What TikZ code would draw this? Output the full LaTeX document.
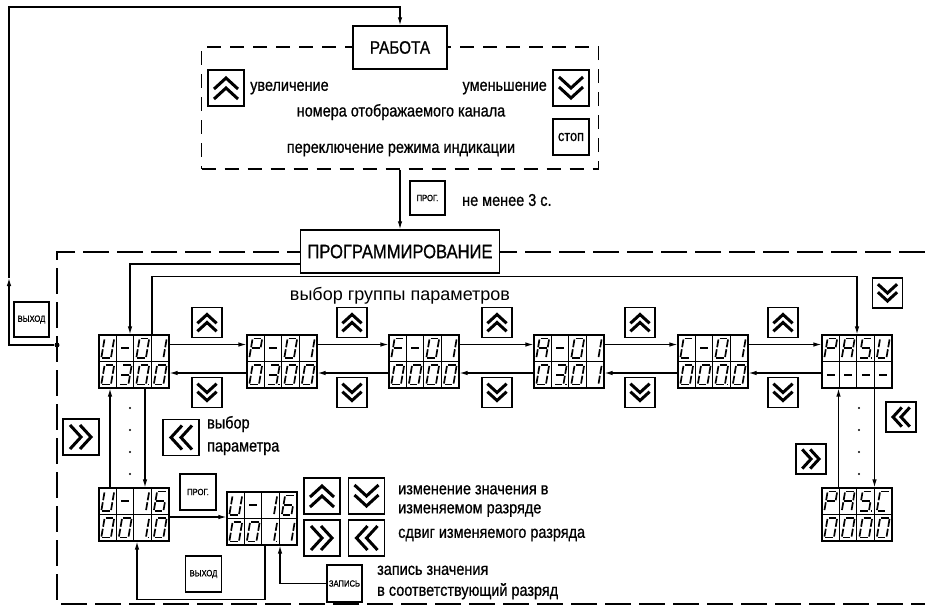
\documentclass[tikz,border=0pt]{standalone}
\usepackage{fontspec}
\setmainfont{Liberation Sans}
\newfontfamily\narrowfont{Liberation Sans}[FakeStretch=0.85, FakeBold=0.8]
\usetikzlibrary{%
  arrows.meta
}

% seven-segment indicator
\newcommand{\sga}{(-3.8,-9.8) -- (3.8,-9.8)}
\newcommand{\sgb}{(4.8,-8.8) -- (4.8,-1)}
\newcommand{\sgc}{(4.8,1) -- (4.8,8.8)}
\newcommand{\sgd}{(-3.8,9.8) -- (3.8,9.8)}
\newcommand{\sge}{(-4.8,1) -- (-4.8,8.8)}
\newcommand{\sgf}{(-4.8,-8.8) -- (-4.8,-1)}
\newcommand{\sgg}{(-3.8,0) -- (3.8,0)}
\newcommand{\sgp}{(6.8,9.8) -- (8.4,9.8)}

\newcommand{\defchar}[2]{\expandafter\def\csname lcd#1\endcsname{#2}}
\defchar{0}{a,b,c,d,e,f}
\defchar{0p}{a,b,c,d,e,f,p}
\defchar{1}{b,c}
\defchar{1p}{b,c,p}
\defchar{3}{a,b,c,d,g}
\defchar{3p}{a,b,c,d,g,p}
\defchar{6}{a,c,d,e,f,g}
\defchar{U}{b,c,d,e,f}
\defchar{P}{a,b,e,f,g}
\defchar{F}{a,e,f,g}
\defchar{A}{a,b,c,e,f,g}
\defchar{C}{a,d,e,f}
\defchar{Sp}{a,c,d,f,g,p}
\defchar{-}{g}

\newcommand{\lcdchar}[3]{%
  \begin{scope}[shift={(#1,#2)}, xslant=0.17]
    \edef\segs{\csname lcd#3\endcsname}
    \foreach \s in \segs {\draw[segline] \csname sg\s\endcsname;}
  \end{scope}}

\newcommand{\lcd}[5]{%
  \node[lcdbox] (#1) at (#2+35,#3+26.5) {};
  \draw[lcdgrid] (#1.west) -- (#1.east);
  \foreach \k in {1,2,3}
    \draw[lcdgrid] ([xshift=17.5*\k]#1.north west) -- ([xshift=17.5*\k]#1.south west);
  \foreach \ch [count=\i] in {#4} {\lcdchar{#2+17.5*\i-8.75}{#3+13.25}{\ch}}
  \foreach \ch [count=\i] in {#5} {\lcdchar{#2+17.5*\i-8.75}{#3+39.75}{\ch}}
}

% double arrow on a key
\newcommand{\chev}[3]{%
  \begin{scope}[shift={(#1.center)}, rotate=#2, scale=#3]
    \draw[chevline] (-12,1) -- (0,-10) -- (12,1) (-12,11) -- (0,0) -- (12,11);
  \end{scope}}

\tikzset{
  conn/.style={line width=1.2pt},
  lbl/.style={font=\narrowfont\fontsize{17}{19}\selectfont, inner sep=0},
  btnlbl/.style={font=\narrowfont\fontsize{9}{10}\selectfont},
  titlebox/.style={draw, line width=1.4pt, fill=white, inner sep=0,
    minimum height=43pt, font=\narrowfont\fontsize{18}{20}\selectfont},
  keybtn/.style={draw, line width=1.4pt, fill=white, inner sep=0, minimum size=36pt},
  smallkey/.style={keybtn, minimum size=30pt},
  lcdbox/.style={draw, line width=1.1pt, minimum width=70pt, minimum height=53pt, inner sep=0},
  lcdgrid/.style={line width=0.7pt},
  segline/.style={line width=1.7pt},
  chevline/.style={line width=3pt},
  workframe/.style={draw, line width=1.2pt, dash pattern=on 14pt off 9pt,
    minimum width=397pt, minimum height=122pt},
  progframe/.style={line width=1.2pt, dash pattern=on 26pt off 8pt}
}

\begin{document}
\begin{tikzpicture}[x=1pt, y=-1pt, >={Latex[length=8pt,width=4.5pt]}]
    \useasboundingbox (0,0) rectangle (925,606);

    % work mode
    \node[workframe] (work) at (400,108) {};
    \node[titlebox, minimum width=94pt] (rabota) at (400,47.5) {РАБОТА};
    \node[keybtn] (workUp) at (226,88) {};
    \node[keybtn] (workDown) at (571,88) {};
    \node[keybtn, font=\narrowfont\fontsize{15}{16}\selectfont] (workStop) at (571,137) {стоп};
    \chev{workUp}{0}{1}
    \chev{workDown}{180}{1}
    \node[lbl, anchor=west] (incText) at (250,88) {увеличение};
    \node[lbl, anchor=east] (decText) at (547,88) {уменьшение};
    \node[lbl] (chanText) at (401,112) {номера отображаемого канала};
    \node[lbl] (modeText) at (401,150) {переключение режима индикации};

    % programming mode
    \draw[progframe] (925,252) -| (57,604) -- (925,604);
    \node[titlebox, minimum width=199pt, font=\narrowfont\fontsize{19.5}{22}\selectfont] (prog) at (400,251.5) {ПРОГРАММИРОВАНИЕ};
    \draw[conn, ->] (work.south) -- (prog.north);
    \node[keybtn, btnlbl, minimum width=35pt, minimum height=34pt] (enterKey) at (427.5,198) {ПРОГ.};
    \node[lbl, anchor=west] (holdText) at (462,200) {не менее 3 с.};

    \node[circle, fill, inner sep=0, minimum size=5pt] (exitDot) at (57,345) {};
    \node[keybtn, btnlbl, minimum size=35pt] (exitKey) at (31.5,319.5) {ВЫХОД};
    \coordinate (exitMid) at (9,278);
    \coordinate (exitTop) at (9,7);
    \draw[conn, ->] (exitDot) -| (exitMid);
    \draw[conn, ->] (exitMid) -- (exitTop) -| (rabota.north);

    \lcd{u01}{99}{335}{U,-,0,1}{0,3,0p,0}
    \lcd{p01}{247}{335}{P,-,0,1}{0,3p,0,0}
    \lcd{f01}{389}{335}{F,-,0,1}{0,0,0,0}
    \lcd{a01}{534}{335}{A,-,0,1}{0,3p,0,1}
    \lcd{c01}{678}{335}{C,-,0,1}{0,0,0p,0}
    \lcd{pasu}{822}{335}{P,A,Sp,U}{-,-,-,-}
    \lcd{u16}{99}{488}{U,-,1,6}{0,0,1p,0}
    \lcd{u16e}{227}{492}{U,-,1,6}{0,0,1p,1}
    \lcd{pasc}{822}{488}{P,A,Sp,C}{0,0,0,0}

    \node[font=\fontsize{18}{20}\selectfont, inner sep=0] (groupText) at (400,296) {выбор группы параметров};
    \foreach \a/\b/\x in {u01/p01/207, p01/f01/352, f01/a01/497, a01/c01/640, c01/pasu/783} {
        \draw[conn, ->] ([yshift=17pt]\a.east) -- ([yshift=17pt]\b.west);
        \draw[conn, ->] ([yshift=-11.5pt]\b.west) -- ([yshift=-11.5pt]\a.east);
        \node[smallkey] (up-\a) at (\x,322.5) {};
        \node[smallkey] (down-\a) at (\x,392.5) {};
        \chev{up-\a}{0}{0.8}
        \chev{down-\a}{180}{0.8}
    }
    \node[smallkey] (pasDown) at (887.5,293) {};
    \chev{pasDown}{180}{0.8}

    \draw[conn, ->] ([yshift=-12.5pt]prog.west) -| ([xshift=-4pt]u01.north);
    \draw[conn, ->] ([xshift=18pt]u01.north) -- ++(0,-58) -| (pasu.north);

    % parameter choice
    \draw[conn, ->] ([xshift=11pt]u01.south) -- ([xshift=11pt]u16.north);
    \draw[conn, ->] ([xshift=-24pt]u16.north) -- ([xshift=-24pt]u01.south);
    \foreach \y in {408,430,452,474} \fill (130,\y) circle[radius=1.1pt];
    \node[keybtn] (selRight) at (81,437) {};
    \node[keybtn] (selLeft) at (181,437.5) {};
    \chev{selRight}{-90}{1}
    \chev{selLeft}{90}{1}
    \node[lbl, anchor=west, align=left] (selText) at (207,435.5) {выбор\\[4pt]параметра};

    \draw[conn, ->] ([xshift=-18.5pt]pasc.north) -- ([xshift=-18.5pt]pasu.south);
    \draw[conn, ->] ([xshift=17.5pt]pasu.south) -- ([xshift=17.5pt]pasc.north);
    \foreach \y in {408,430,452,474} \fill (859,\y) circle[radius=1.1pt];
    \node[smallkey] (pasLeft) at (901,417) {};
    \node[smallkey] (pasRight) at (811,459) {};
    \chev{pasLeft}{90}{0.8}
    \chev{pasRight}{-90}{0.8}

    % value editing
    \draw[conn, ->] ([yshift=-2.5pt]u16.east) -- ([yshift=1.5pt]u16e.west);
    \node[keybtn, btnlbl] (editKey) at (198,492) {ПРОГ.};
    \node[keybtn, btnlbl] (backKey) at (203.5,574) {ВЫХОД};
    \draw[conn, ->] ([xshift=3pt]u16e.south) -- ++(0,54) -| ([xshift=3pt]u16.south);
    \node[keybtn, btnlbl, minimum width=35pt, minimum height=37pt] (saveKey) at (344.5,583.5) {ЗАПИСЬ};
    \draw[conn, ->] (saveKey.west) -| ([xshift=18pt]u16e.south);

    \node[keybtn] (digUp) at (322,496) {};
    \node[keybtn] (digDown) at (366.5,496) {};
    \node[keybtn] (digRight) at (322,538) {};
    \node[keybtn] (digLeft) at (366.5,538) {};
    \chev{digUp}{0}{1}
    \chev{digDown}{180}{1}
    \chev{digRight}{-90}{1}
    \chev{digLeft}{90}{1}
    \node[lbl, anchor=west, align=left] (valText) at (398,501) {изменение значения в\\изменяемом разряде};
    \node[lbl, anchor=west] (shiftText) at (398,535) {сдвиг изменяемого разряда};
    \node[lbl, anchor=west, align=left] (saveText) at (377,582.5) {запись значения\\[2pt]в соответствующий разряд};
\end{tikzpicture}
\end{document}
